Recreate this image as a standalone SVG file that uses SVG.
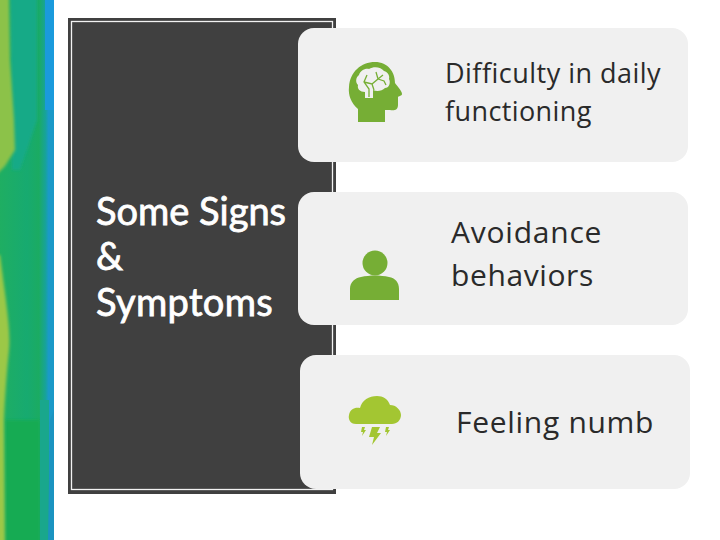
<svg xmlns="http://www.w3.org/2000/svg" width="720" height="540" viewBox="0 0 720 540">
<style>
.card{fill:#f0f0f0}
.ic{fill:#76ae35}
.cl{fill:#a3c632}
.lb{font-family:"Open Sans","Noto Sans",sans-serif;fill:#2a2a2a}
.ti{font-family:"Lato",sans-serif;font-size:38px;fill:#fff;stroke:#fff;stroke-width:.8px}
</style>
<defs>
<linearGradient id="band" x1="0" y1="0" x2="1" y2="0">
<stop offset="0" stop-color="#1fae62"/><stop offset=".5" stop-color="#17aa70"/><stop offset=".72" stop-color="#1bab62"/><stop offset=".84" stop-color="#17a398"/><stop offset=".9" stop-color="#1a9ac8"/><stop offset="1" stop-color="#1a98c8"/>
</linearGradient>
<filter id="soft" x="-30%" y="-10%" width="160%" height="120%"><feGaussianBlur stdDeviation="1.500"/></filter>
<clipPath id="bandclip"><rect width="54" height="540"/></clipPath>
</defs>
<rect width="720" height="540" fill="#fff"/>
<g id="band-art" clip-path="url(#bandclip)">
<rect width="54" height="540" fill="url(#band)"/>
<rect x="45" y="0" width="9" height="110" fill="#1a9adc"/>
<path d="M10 -5 L37 -5 L37 120 L20 170 L12 170Z" fill="#14aa8c" opacity=".85" filter="url(#soft)"/>
<path d="M-5 -5 L9 -5 L10 60 L14 120 L15 150 L5 166 L-5 176Z" fill="#8cc24a" filter="url(#soft)"/>
<path d="M5 420 L40 420 L40 545 L5 545Z" fill="#17ab52" filter="url(#soft)"/>
<path d="M40 400 L49 400 L49 540 L40 540Z" fill="#19a78c"/>
<path d="M50 420 L54 410 L54 540 L48 540Z" fill="#1a93c0"/>
<path d="M-5 255 L0 255 C5 295 11 330 9 350 C7 370 5 395 4 420 L5 545 L-5 545Z" fill="#9cc846" filter="url(#soft)"/>
</g>
<g id="title-panel">
<rect x="68" y="18" width="268" height="476" fill="#404040"/>
<rect x="71.500" y="21.500" width="261" height="468" fill="none" stroke="#f2f2f2" stroke-width="1.300"/>
<text class="ti" x="96" y="225">Some Signs</text>
<text class="ti" x="96" y="270">&amp;</text>
<text class="ti" x="96" y="316" letter-spacing=".35">Symptoms</text>
</g>
<g id="card-1">
<rect class="card" x="298" y="28" width="390" height="134" rx="16"/>
<path class="ic" d="M358 122 L358 109 C351 103 348 95 349 87 C350 72 361 62 375 62 C388 62 395 72 395 83 C397 86 402 91 402 94 C402 96 398 96 398 97 L398 105 C398 110 394 111 390 110 L385 110 L385 122Z"/>
<path d="M365 98 L365 92 C360 92 357 89 358 85 C355 82 356 77 359 75 C360 71 365 68 369 69 C374 66 381 67 384 71 C388 72 390 76 389 79 C391 83 389 88 385 88 C382 91 377 92 373 90 L373 98Z" fill="#f0f0f0"/>
<path d="M369 97 L369 89 L364 82 L367 75 M364 82 L372 84 L378 79 L376 72 M378 79 L384 81 L386 85 M372 84 L374 90 M378 79 L383 75" fill="none" stroke="#76ae35" stroke-width="1.300"/>
<text class="lb" font-size="27" letter-spacing=".48" x="445" y="83">Difficulty in daily</text>
<text class="lb" font-size="27" letter-spacing=".4" x="445" y="121">functioning</text>
</g>
<g id="card-2">
<rect class="card" x="298" y="192" width="390" height="133" rx="16"/>
<circle class="ic" cx="375" cy="263" r="12.500"/>
<path class="ic" d="M350 300 L350 289 C350 282 355 278 361 277 C370 275 380 275 389 277 C395 278 399 282 399 289 L399 300Z"/>
<text class="lb" font-size="30" letter-spacing=".78" x="451" y="243">Avoidance</text>
<text class="lb" font-size="30" letter-spacing=".6" x="451" y="286">behaviors</text>
</g>
<g id="card-3">
<rect class="card" x="300" y="355" width="390" height="134" rx="16"/>
<path class="cl" d="M356 424 C350 424 348 419 349 415 C350 409 355 407 360 408 C362 400 369 396 377 396 C383 396 388 399 390 405 C396 405 401 410 401 415 C401 420 397 424 392 424Z"/>
<path class="cl" d="M372 427 L380 427 L377 433 L381 433 L372 445 L374 437 L369 437Z"/>
<path class="cl" d="M362 427 L365 427 L364 430 L366 430 L362 436 L363 432 L361 432Z M386 427 L389 427 L388 430 L390 430 L386 436 L387 432 L385 432Z"/>
<text class="lb" font-size="30" letter-spacing=".7" x="456" y="433">Feeling numb</text>
</g>
</svg>
